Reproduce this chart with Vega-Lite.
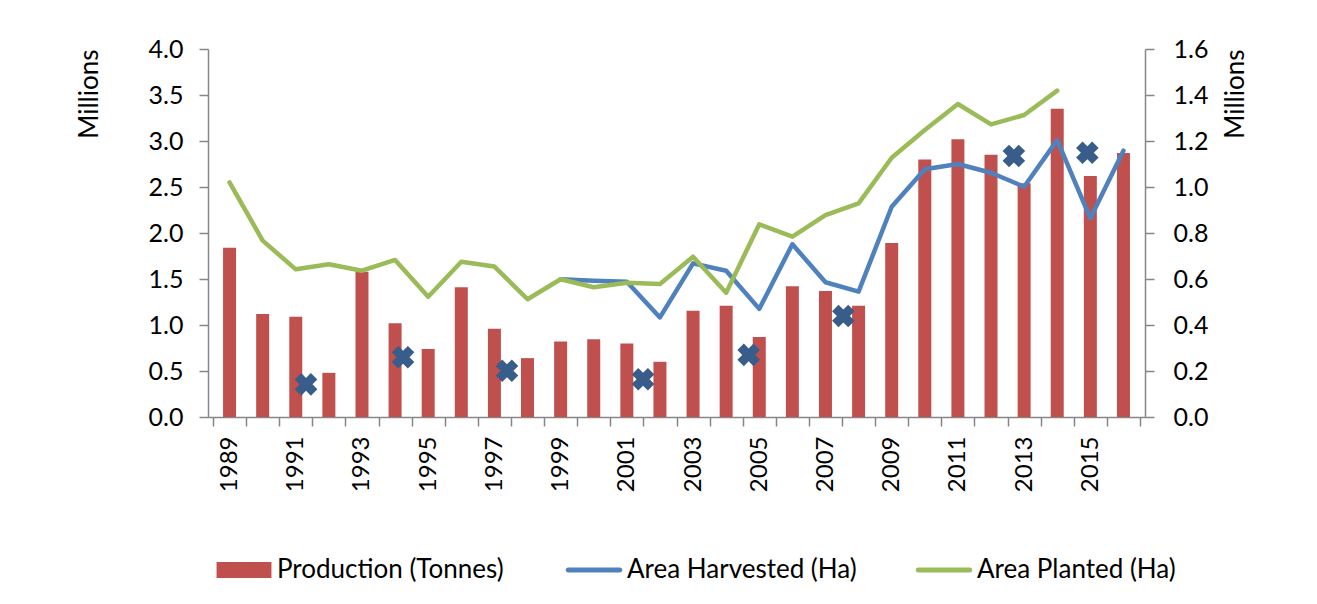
{
  "$schema": "https://vega.github.io/schema/vega-lite/v6.json",
  "width": 937,
  "height": 368,
  "autosize": "none",
  "padding": {"left": 208, "top": 49, "right": 172, "bottom": 187},
  "background": "white",
  "config": {
    "font": "Lato",
    "view": {"stroke": null},
    "axis": {
      "grid": false,
      "domainColor": "#868686",
      "tickColor": "#868686",
      "domainWidth": 1.5,
      "tickWidth": 1.5,
      "tickSize": 9,
      "labelColor": "#000000",
      "labelFont": "Lato",
      "labelFontSize": 25,
      "titleFont": "Lato",
      "titleFontSize": 26,
      "titleFontWeight": "normal",
      "titleColor": "#000000"
    }
  },
  "datasets": {
    "main": [
      {"year": 1989, "production": 1.84, "harvested": null, "planted": 1.02},
      {"year": 1990, "production": 1.12, "harvested": null, "planted": 0.767},
      {"year": 1991, "production": 1.09, "harvested": null, "planted": 0.642},
      {"year": 1992, "production": 0.48, "harvested": null, "planted": 0.664},
      {"year": 1993, "production": 1.58, "harvested": null, "planted": 0.636},
      {"year": 1994, "production": 1.02, "harvested": null, "planted": 0.683},
      {"year": 1995, "production": 0.74, "harvested": null, "planted": 0.523},
      {"year": 1996, "production": 1.41, "harvested": null, "planted": 0.675},
      {"year": 1997, "production": 0.96, "harvested": null, "planted": 0.654},
      {"year": 1998, "production": 0.64, "harvested": null, "planted": 0.512},
      {"year": 1999, "production": 0.82, "harvested": 0.599, "planted": 0.599},
      {"year": 2000, "production": 0.845, "harvested": 0.592, "planted": 0.564},
      {"year": 2001, "production": 0.8, "harvested": 0.588, "planted": 0.584},
      {"year": 2002, "production": 0.6, "harvested": 0.433, "planted": 0.578},
      {"year": 2003, "production": 1.155, "harvested": 0.668, "planted": 0.697},
      {"year": 2004, "production": 1.21, "harvested": 0.636, "planted": 0.54},
      {"year": 2005, "production": 0.87, "harvested": 0.47, "planted": 0.838},
      {"year": 2006, "production": 1.42, "harvested": 0.751, "planted": 0.784},
      {"year": 2007, "production": 1.37, "harvested": 0.586, "planted": 0.878},
      {"year": 2008, "production": 1.21, "harvested": 0.545, "planted": 0.929},
      {"year": 2009, "production": 1.89, "harvested": 0.914, "planted": 1.127},
      {"year": 2010, "production": 2.8, "harvested": 1.077, "planted": 1.248},
      {"year": 2011, "production": 3.02, "harvested": 1.1, "planted": 1.361},
      {"year": 2012, "production": 2.85, "harvested": 1.062, "planted": 1.272},
      {"year": 2013, "production": 2.54, "harvested": 1.001, "planted": 1.313},
      {"year": 2014, "production": 3.35, "harvested": 1.204, "planted": 1.419},
      {"year": 2015, "production": 2.62, "harvested": 0.864, "planted": null},
      {"year": 2016, "production": 2.87, "harvested": 1.158, "planted": null}
    ],
    "markers": [
      {"year": 1991.31, "marker": 0.142},
      {"year": 1994.24, "marker": 0.26},
      {"year": 1997.38, "marker": 0.201},
      {"year": 2001.49, "marker": 0.164},
      {"year": 2004.68, "marker": 0.27},
      {"year": 2007.54, "marker": 0.439},
      {"year": 2012.69, "marker": 1.135},
      {"year": 2014.91, "marker": 1.149}
    ]
  },
  "encoding": {
    "x": {
      "field": "year",
      "type": "quantitative",
      "title": null,
      "scale": {"domain": [1988.5, 2016.5], "nice": false, "zero": false},
      "axis": {
        "values": [1988.5, 1989, 1989.5, 1990.5, 1991, 1991.5, 1992.5, 1993, 1993.5, 1994.5, 1995, 1995.5, 1996.5, 1997, 1997.5, 1998.5, 1999, 1999.5, 2000.5, 2001, 2001.5, 2002.5, 2003, 2003.5, 2004.5, 2005, 2005.5, 2006.5, 2007, 2007.5, 2008.5, 2009, 2009.5, 2010.5, 2011, 2011.5, 2012.5, 2013, 2013.5, 2014.5, 2015, 2015.5, 2016.5],
        "labelExpr": "datum.value % 1 === 0 ? '' + datum.value : ''",
        "labelAngle": -90,
        "labelPadding": 10,
        "labelFontSize": 24,
        "labelOverlap": false,
        "labelBound": false,
        "labelFlush": false,
        "tickOpacity": {"condition": {"test": "datum.value % 1 === 0", "value": 0}, "value": 1}
      }
    }
  },
  "layer": [
    {
      "data": {"name": "main"},
      "mark": {"type": "bar", "orient": "vertical", "size": 13},
      "encoding": {
        "y": {
          "field": "production",
          "type": "quantitative",
          "title": "Millions",
          "scale": {"domain": [0, 4], "nice": false},
          "axis": {
            "values": [0, 0.5, 1, 1.5, 2, 2.5, 3, 3.5, 4],
            "format": ".1f",
            "labelPadding": 16,
            "titleAnchor": "end",
            "titleAngle": -90,
            "titleAlign": "right",
            "titlePadding": 46
          }
        },
        "color": {
          "datum": "Production (Tonnes)",
          "type": "nominal",
          "scale": {
            "domain": ["Production (Tonnes)", "Area Harvested (Ha)", "Area Planted (Ha)"],
            "range": ["#c0504d", "#4f81bd", "#9bbb59"]
          },
          "legend": {
            "orient": "none",
            "legendX": 8,
            "legendY": 493,
            "direction": "horizontal",
            "gridAlign": "all",
            "columnPadding": 58,
            "title": null,
            "padding": 0,
            "symbolSize": 3136,
            "labelFont": "Lato",
            "labelFontSize": 26,
            "labelColor": "#000000",
            "labelOffset": 5,
            "labelLimit": 500,
            "encode": {
              "symbols": {
                "update": {
                  "shape": {"signal": "datum.value === 'Production (Tonnes)' ? 'M-0.98,-0.29H0.98V0.29H-0.98Z' : 'M-0.92,-0.09H0.92A0.09,0.09 0 0 1 0.92,0.09H-0.92A0.09,0.09 0 0 1 -0.92,-0.09Z'"},
                  "fill": {"scale": "color", "field": "value"},
                  "stroke": {"value": "transparent"},
                  "strokeWidth": {"value": 0},
                  "opacity": {"value": 1},
                  "fillOpacity": {"value": 1}
                }
              }
            }
          }
        }
      }
    },
    {
      "layer": [
        {
          "data": {"name": "main"},
          "mark": {"type": "line", "strokeWidth": 4.5, "strokeCap": "round", "strokeJoin": "round"},
          "encoding": {
            "y": {
              "field": "harvested",
              "type": "quantitative",
              "title": "Millions",
              "scale": {"domain": [0, 1.6], "nice": false},
              "axis": {
                "orient": "right",
                "values": [0, 0.2, 0.4, 0.6, 0.8, 1, 1.2, 1.4, 1.6],
                "format": ".1f",
                "labelPadding": 19,
                "titleAnchor": "end",
                "titleAngle": -90,
                "titleAlign": "right",
                "titleBaseline": "top",
                "titlePadding": 15
              }
            },
            "color": {"datum": "Area Harvested (Ha)", "type": "nominal"}
          }
        },
        {
          "data": {"name": "main"},
          "mark": {"type": "line", "strokeWidth": 4.5, "strokeCap": "round", "strokeJoin": "round"},
          "encoding": {
            "y": {"field": "planted", "type": "quantitative", "title": "Millions"},
            "color": {"datum": "Area Planted (Ha)", "type": "nominal"}
          }
        },
        {
          "data": {"name": "markers"},
          "mark": {"type": "point", "shape": "cross", "angle": 45, "size": 520, "filled": true, "color": "#385d8a", "opacity": 1},
          "encoding": {
            "y": {"field": "marker", "type": "quantitative", "title": "Millions"}
          }
        }
      ]
    }
  ],
  "resolve": {"scale": {"y": "independent"}}
}
